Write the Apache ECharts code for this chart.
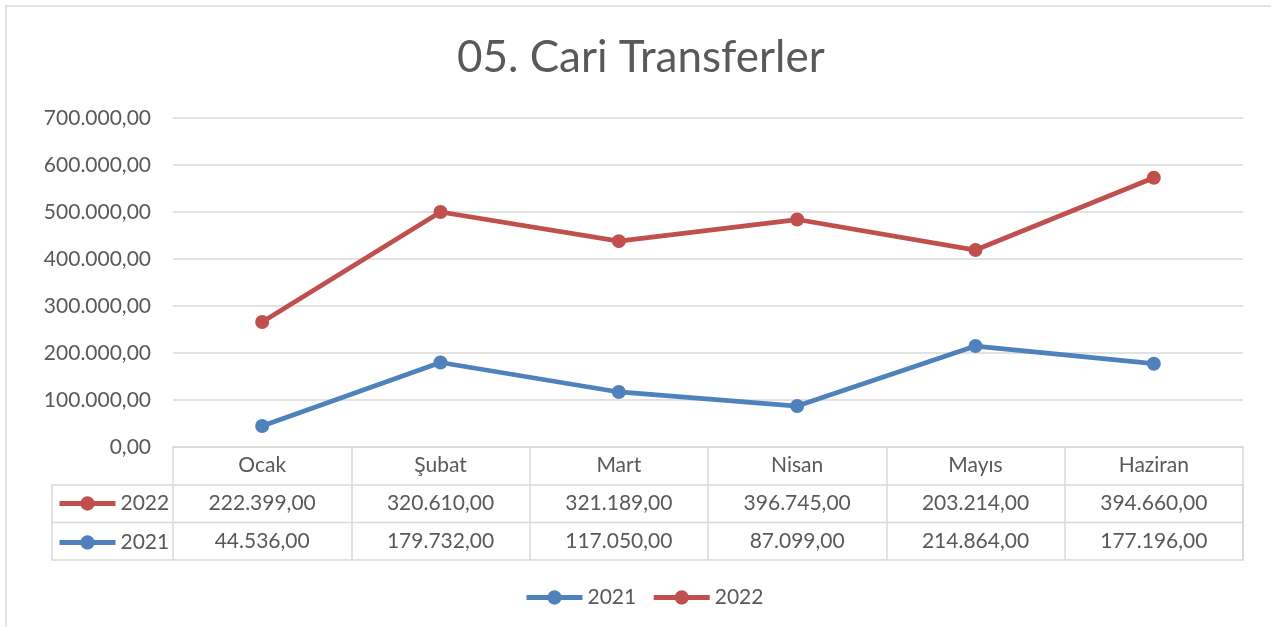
<!DOCTYPE html>
<html>
<head>
<meta charset="utf-8">
<script src="https://cdn.jsdelivr.net/npm/echarts@6/dist/echarts.min.js"></script>
<style>
  html, body { margin: 0; padding: 0; background: #ffffff; }
  #chart { width: 1271px; height: 627px; }
</style>
</head>
<body>
<div id="chart"></div>
<script>
// aylar
const months = ['Ocak', 'Şubat', 'Mart', 'Nisan', 'Mayıs', 'Haziran']
// grafikte çizilen değerler
const line2021 = [44536, 179732, 117050, 87099, 214864, 177196]
const line2022 = [266000, 500000, 438000, 484000, 419000, 573000]
// veri tablosundaki değerler
const table2022 = [222399, 320610, 321189, 396745, 203214, 394660]
const table2021 = [44536, 179732, 117050, 87099, 214864, 177196]
const yTicks = [0, 100000, 200000, 300000, 400000, 500000, 600000, 700000]

const FONT = 'Lato'
const TXT = '#595959'
const GRID_LINE = '#d9d9d9'
const BLUE = '#4f81bd'
const RED = '#c0504d'

// 700000 -> 700.000,00
const fmt = v => Math.round(v).toString().replace(/\B(?=(\d{3})+(?!\d))/g, '.') + ',00'

const rowAxis = (values, offset) => ({
    type: 'category',
    position: 'bottom',
    offset: offset,
    data: values.map(fmt),
    axisLine: { show: false },
    axisTick: { show: false },
    axisLabel: { color: TXT, fontFamily: FONT, fontSize: 21, margin: 8, interval: 0 }
})

const legendText = { color: TXT, fontFamily: FONT, fontSize: 21, lineHeight: 20 }

const chart = echarts.init(document.getElementById('chart'), null, { renderer: 'canvas' })

chart.setOption({
    animation: false,
    backgroundColor: '#ffffff',
    title: {
        text: '05. Cari Transferler',
        left: 452,
        top: 31,
        textStyle: { color: TXT, fontFamily: FONT, fontSize: 44, fontWeight: 'normal' }
    },
    grid: { left: 173, right: 28, top: 118, bottom: 180, containLabel: false },
    legend: [
        {
            data: ['2021', '2022'],
            left: 524,
            top: 587,
            padding: 0,
            itemWidth: 56,
            itemHeight: 18,
            itemGap: 15,
            lineStyle: { width: 5 },
            textStyle: legendText
        },
        {
            data: ['2022', '2021'],
            orient: 'vertical',
            left: 57,
            top: 493,
            padding: 0,
            itemWidth: 56,
            itemHeight: 18,
            itemGap: 18,
            selectedMode: false,
            lineStyle: { width: 5 },
            textStyle: legendText
        }
    ],
    xAxis: [
        {
            type: 'category',
            data: months,
            boundaryGap: true,
            axisLine: { show: true, lineStyle: { color: GRID_LINE, width: 1.5 } },
            axisTick: { show: true, length: 113, lineStyle: { color: GRID_LINE, width: 1.5 } },
            axisLabel: { color: TXT, fontFamily: FONT, fontSize: 21, margin: 8, interval: 0 }
        },
        rowAxis(table2022, 38),
        rowAxis(table2021, 75.5)
    ],
    yAxis: {
        type: 'value',
        min: yTicks[0],
        max: yTicks[yTicks.length - 1],
        interval: 100000,
        axisLine: { show: false },
        axisTick: { show: false },
        splitLine: { lineStyle: { color: GRID_LINE, width: 1.5 } },
        axisLabel: { color: TXT, fontFamily: FONT, fontSize: 21, margin: 22, formatter: fmt }
    },
    series: [
        {
            name: '2021',
            type: 'line',
            data: line2021,
            symbol: 'circle',
            symbolSize: 14,
            color: BLUE,
            lineStyle: { width: 4.75, color: BLUE },
            itemStyle: { color: BLUE },
            emphasis: { disabled: true }
        },
        {
            name: '2022',
            type: 'line',
            data: line2022,
            symbol: 'circle',
            symbolSize: 14,
            color: RED,
            lineStyle: { width: 4.75, color: RED },
            itemStyle: { color: RED },
            emphasis: { disabled: true }
        }
    ],
    graphic: [
        // dış çerçeve
        {
            type: 'rect', silent: true,
            shape: { x: 6, y: 6, width: 1290, height: 650 },
            style: { fill: null, stroke: GRID_LINE, lineWidth: 1.5 }
        },
        // veri tablosu çizgileri
        {
            type: 'rect', silent: true,
            shape: { x: 52, y: 485, width: 1191, height: 75 },
            style: { fill: null, stroke: GRID_LINE, lineWidth: 1.5 }
        },
        {
            type: 'line', silent: true,
            shape: { x1: 52, y1: 522.5, x2: 1243, y2: 522.5 },
            style: { stroke: GRID_LINE, lineWidth: 1.5 }
        }
    ]
})
</script>
</body>
</html>
